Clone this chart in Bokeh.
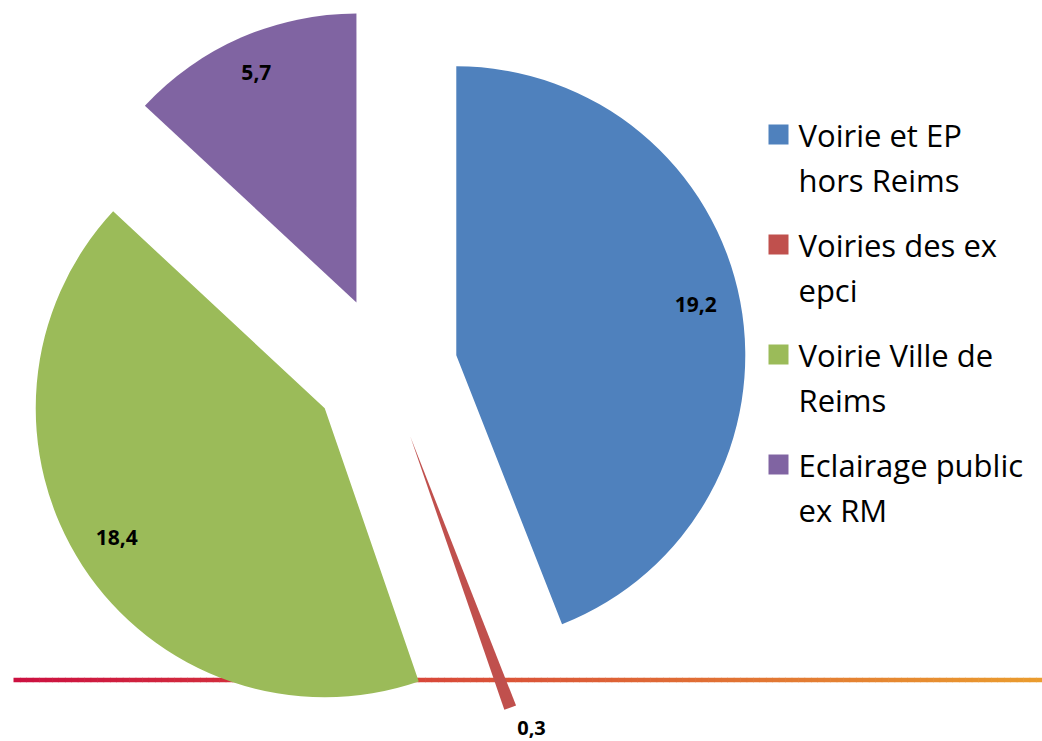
import math
from bokeh.plotting import figure
from bokeh.models import Range1d, ColumnDataSource
from bokeh.core.properties import value
from bokeh.embed import file_html
from bokeh.resources import INLINE

# ---- data ----
categories = ["Voirie et EP\nhors Reims", "Voiries des ex\nepci",
              "Voirie Ville de\nReims", "Eclairage public\nex RM"]
values = [19.2, 0.3, 18.4, 5.7]
value_labels = ["19,2", "0,3", "18,4", "5,7"]
colors = ["#4F81BD", "#C0504D", "#9BBB59", "#8064A2"]

# ---- layout / style ----
W, H = 1042, 741
def sy(y):  # screenshot y -> data y (y up)
    return H - y

p = figure(width=W, height=H, output_backend="svg", toolbar_location=None,
           x_range=Range1d(0, W), y_range=Range1d(0, H),
           x_axis_location=None, y_axis_location=None, min_border=0)
p.grid.visible = False
p.outline_line_color = None
p.background_fill_color = "white"
p.border_fill_color = "white"

# gradient rule under the pie
x0, x1, ny = 13, 1042, 679.5
n = 160
c0 = (0xCC, 0x10, 0x40)
c1 = (0xEA, 0x9C, 0x2E)
xs0, xs1, cols = [], [], []
for i in range(n):
    t = i / (n - 1)
    xa = x0 + (x1 - x0) * i / n
    xb = x0 + (x1 - x0) * (i + 1) / n + 0.6
    xs0.append(xa); xs1.append(xb)
    c = tuple(int(round(c0[k] + (c1[k] - c0[k]) * t)) for k in range(3))
    cols.append("#%02X%02X%02X" % c)
p.segment(x0=xs0, y0=[sy(ny)] * n, x1=xs1, y1=[sy(ny)] * n,
          line_color=cols, line_width=4.5)

# ---- exploded pie ----
cx, cy = 384.8, 368.3   # base centre (screen px)
R = 289
explode = 0.25 * R
total = sum(values)
starts, ends, xs, ys, lx = [], [], [], [], []
acc = 0.0
for v in values:
    th_s = acc / total * 360
    acc += v
    th_e = acc / total * 360
    th_m = math.radians((th_s + th_e) / 2)
    ux, uy = math.sin(th_m), math.cos(th_m)   # data-space direction (y up)
    xc = cx + explode * ux
    yc = sy(cy) + explode * uy
    xs.append(xc); ys.append(yc)
    starts.append(math.radians(90 - th_s))
    ends.append(math.radians(90 - th_e))
    lx.append((xc, yc, ux, uy))

src = ColumnDataSource(dict(x=xs, y=ys, s=starts, e=ends, c=colors))
p.wedge(x="x", y="y", radius=R, radius_units="screen", start_angle="s",
        end_angle="e", direction="clock", fill_color="c", line_color=None,
        source=src)

# data labels
in_x, in_y, in_t = [], [], []
out_x, out_y, out_t = [], [], []
for (xc, yc, ux, uy), lab, v in zip(lx, value_labels, values):
    if v / total < 0.03:
        out_x.append(xc + 1.03 * R * ux + 4)
        out_y.append(yc + 1.03 * R * uy - 5)
        out_t.append(lab)
    else:
        in_x.append(xc + 0.85 * R * ux - 2)
        in_y.append(yc + 0.85 * R * uy + 5)
        in_t.append(lab)
p.text(x=in_x, y=in_y, text=in_t, text_align="center", text_baseline="middle",
       text_font=value("Open Sans"), text_font_style="bold",
       text_font_size="21px", text_color="black")
p.text(x=out_x, y=out_y, text=out_t, text_align="left", text_baseline="top",
       text_font=value("Open Sans"), text_font_style="bold",
       text_font_size="20px", text_color="black")

# ---- legend ----
sq_x, sq_y = [], []
t_x, t_y, t_t = [], [], []
for i, lab in enumerate(categories):
    base = 145 + 110 * i
    sq_x.append(778)
    sq_y.append(sy(base - 11))
    for j, line in enumerate(lab.split("\n")):
        t_x.append(798)
        t_y.append(sy(base - 11 + 45 * j))
        t_t.append(line)
p.rect(x=sq_x, y=sq_y, width=20, height=20, fill_color=colors, line_color=None)
p.text(x=t_x, y=t_y, text=t_t, text_align="left", text_baseline="alphabetic",
       text_font=value("Open Sans"), text_font_size="31px", text_color="black")

open("out.html", "w").write(file_html(p, INLINE))
